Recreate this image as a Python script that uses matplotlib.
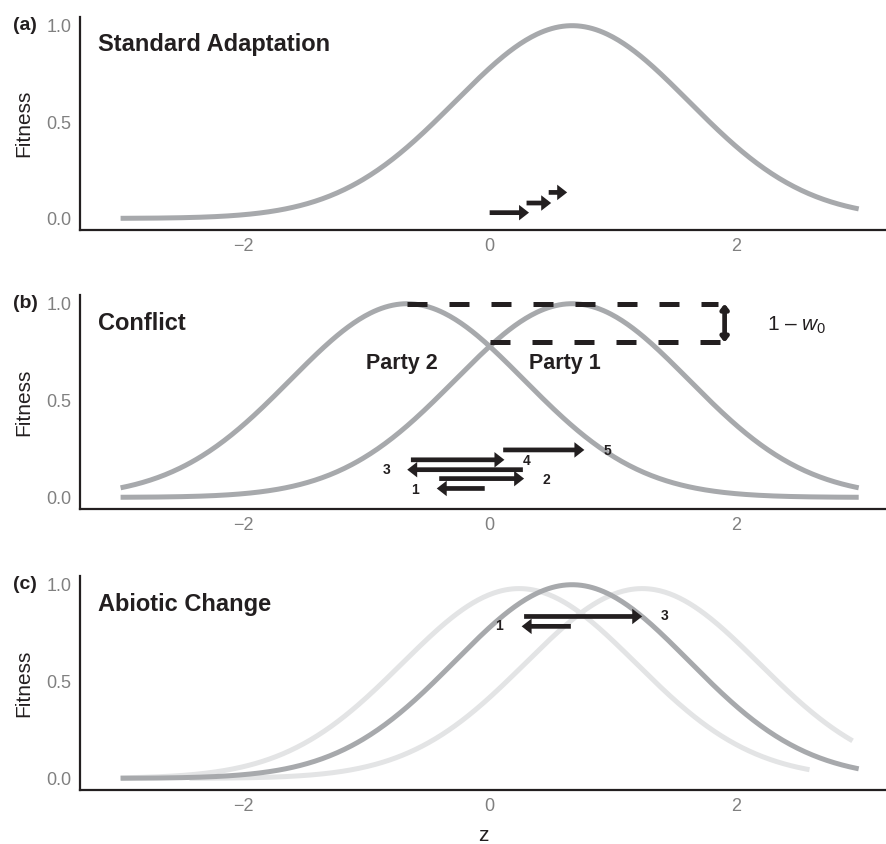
import numpy as np
import matplotlib
matplotlib.use("Agg")
import matplotlib.pyplot as plt
from matplotlib.transforms import blended_transform_factory

plt.rcParams["font.family"] = ["Liberation Sans", "DejaVu Sans"]
plt.rcParams["mathtext.fontset"] = "custom"
plt.rcParams["mathtext.rm"] = "Liberation Sans"
plt.rcParams["mathtext.it"] = "Liberation Sans:italic"

# -------------------------------------------------
# Fitness curves (gaussian: centre, width, peak, z-range)
# -------------------------------------------------
SD = 0.95
a_centre, a_peak, a_range = 0.67, 1.0, (-3.0, 3.0)

b_centres = [0.67, -0.67]          # Party 1, Party 2
b_peak = 1.0
b_range = (-3.0, 3.0)

c_centres = [0.24, 1.24, 0.67]     # before (light), after (light), now (dark)
c_peaks = [0.98, 0.98, 1.0]
c_ranges = [(-3.0, 2.6), (-2.44, 2.95), (-3.0, 3.0)]
c_colors = ["#e3e4e5", "#e3e4e5", "#a7a9ac"]

# -------------------------------------------------
# Arrows (x start, x end, y) and their labels
# -------------------------------------------------
a_x0 = [0.0, 0.30, 0.48]
a_x1 = [0.32, 0.50, 0.63]
a_y = [0.03, 0.08, 0.135]

b_x0 = [-0.04, -0.41, 0.27, -0.64, 0.11]
b_x1 = [-0.43, 0.28, -0.67, 0.12, 0.77]
b_y = [0.046, 0.097, 0.143, 0.194, 0.245]
b_lab = ["1", "2", "3", "4", "5"]
b_lab_x = [-0.61, 0.46, -0.84, 0.30, 0.96]
b_lab_y = [0.04, 0.09, 0.14, 0.19, 0.24]

c_x0 = [0.66, 0.28]
c_x1 = [0.26, 1.24]
c_y = [0.785, 0.836]
c_lab = ["1", "3"]
c_lab_x = [0.08, 1.42]
c_lab_y = [0.785, 0.836]

# conflict gap markers
gap_top, gap_low = 1.0, 0.80
gap_top_x = (-0.67, 1.86)
gap_low_x = (0.0, 1.87)
gap_arrow_x = 1.91

CURVE = "#a7a9ac"
DARK = "#231f20"
TICK = "#808080"


def gauss(z, centre, peak):
    return peak * np.exp(-(z - centre) ** 2 / (2 * SD ** 2))


def draw_arrows(ax, x0, x1, y):
    for s, e, yy in zip(x0, x1, y):
        ax.annotate("", xy=(e, yy), xytext=(s, yy),
                    arrowprops=dict(arrowstyle="-|>,head_length=0.45,head_width=0.35",
                                    lw=3.4, color=DARK, shrinkA=0, shrinkB=0,
                                    mutation_scale=6, joinstyle="miter",
                                    capstyle="butt"))


def style_axes(ax, tag, title):
    ax.set_xlim(-3.33, 3.23)
    ax.set_ylim(-0.06, 1.045)
    for s in ["top", "right"]:
        ax.spines[s].set_visible(False)
    for s in ["left", "bottom"]:
        ax.spines[s].set_linewidth(1.6)
        ax.spines[s].set_color(DARK)
    ax.set_xticks([-2, 0, 2])
    ax.set_yticks([0.0, 0.5, 1.0])
    ax.set_yticklabels(["0.0", "0.5", "1.0"])
    ax.tick_params(length=0, labelsize=13, labelcolor=TICK, pad=6)
    ax.set_ylabel("Fitness", fontsize=15, color=DARK)
    ax.yaxis.set_label_coords(-0.058, 0.5)
    tr = blended_transform_factory(ax.transAxes, ax.transData)
    ax.text(-0.068, 1.0, tag, transform=tr, fontsize=14, fontweight="bold",
            color=DARK, ha="center", va="center")
    ax.text(0.022, 0.9, title, transform=tr, fontsize=17, fontweight="bold",
            color=DARK, ha="left", va="center")


fig = plt.figure(figsize=(8.87, 8.44), dpi=100)
W, H = 887, 844
left, width = 80 / W, 807 / W
ax_a = fig.add_axes([left, 1 - 230 / H, width, 213 / H])
ax_b = fig.add_axes([left, 1 - 509 / H, width, 214 / H])
ax_c = fig.add_axes([left, 1 - 790 / H, width, 214 / H])

# (a) standard adaptation
z = np.linspace(a_range[0], a_range[1], 400)
ax_a.plot(z, gauss(z, a_centre, a_peak), color=CURVE, lw=3.6,
          solid_capstyle="butt")
draw_arrows(ax_a, a_x0, a_x1, a_y)
style_axes(ax_a, "(a)", "Standard Adaptation")

# (b) conflict
z = np.linspace(b_range[0], b_range[1], 400)
for c in b_centres:
    ax_b.plot(z, gauss(z, c, b_peak), color=CURVE, lw=3.6,
              solid_capstyle="butt")
ax_b.plot(gap_top_x, [gap_top, gap_top], color=DARK, lw=3.6,
          linestyle=(0, (4, 4.4)), dash_capstyle="butt")
ax_b.plot(gap_low_x, [gap_low, gap_low], color=DARK, lw=3.6,
          linestyle=(0, (4, 4.4)), dash_capstyle="butt")
ax_b.annotate("", xy=(gap_arrow_x, gap_low), xytext=(gap_arrow_x, gap_top),
              arrowprops=dict(arrowstyle="<|-|>,head_length=0.45,head_width=0.35",
                              lw=3.4, color=DARK, shrinkA=0, shrinkB=0,
                              mutation_scale=6))
ax_b.text(2.5, 0.89, r"1 – $w_0$", fontsize=15, color=DARK,
          ha="center", va="center")
ax_b.text(-0.71, 0.69, "Party 2", fontsize=15.5, fontweight="bold",
          color=DARK, ha="center", va="center")
ax_b.text(0.61, 0.69, "Party 1", fontsize=15.5, fontweight="bold",
          color=DARK, ha="center", va="center")
draw_arrows(ax_b, b_x0, b_x1, b_y)
for t, x, y in zip(b_lab, b_lab_x, b_lab_y):
    ax_b.text(x, y, t, fontsize=10, fontweight="bold", color=DARK,
              ha="center", va="center")
style_axes(ax_b, "(b)", "Conflict")

# (c) abiotic change
for c, p, r, col in zip(c_centres, c_peaks, c_ranges, c_colors):
    z = np.linspace(r[0], r[1], 400)
    ax_c.plot(z, gauss(z, c, p), color=col, lw=3.6, solid_capstyle="butt")
draw_arrows(ax_c, c_x0, c_x1, c_y)
for t, x, y in zip(c_lab, c_lab_x, c_lab_y):
    ax_c.text(x, y, t, fontsize=10, fontweight="bold", color=DARK,
              ha="center", va="center")
style_axes(ax_c, "(c)", "Abiotic Change")
ax_c.set_xlabel("z", fontsize=15, color=DARK, labelpad=8)

fig.savefig("out.png", dpi=100)
